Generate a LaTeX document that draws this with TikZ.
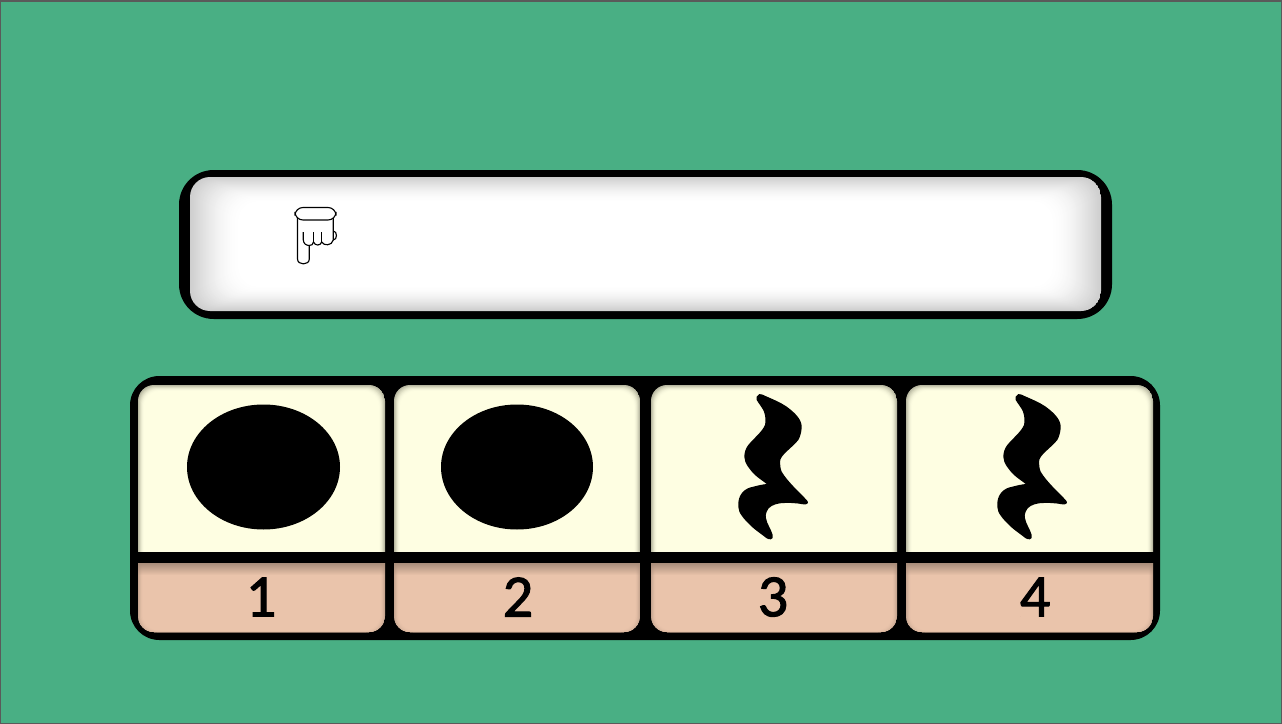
\documentclass[tikz,border=0pt]{standalone}
\usepackage{fontspec}
\newfontfamily\beatfont[FakeBold=1.8]{Carlito}
\definecolor{feltgreen}{HTML}{49AF84}
\definecolor{cellcream}{HTML}{FEFEE2}
\definecolor{cellpeach}{HTML}{EAC4AB}
\definecolor{framegray}{HTML}{5A5A5A}
\definecolor{panelshadow}{HTML}{CECECE}
\definecolor{creamshadow}{HTML}{B5B59E}
\definecolor{peachshadow}{HTML}{A98D7A}
\definecolor{peachedge}{HTML}{C4A48F}
\newcommand{\insetshade}[9]{% x0,y0,x1,y1,radius,inner colour,shadow colour,depth,xstep
  \foreach \i in {0,...,#8}{
    \pgfmathsetmacro{\mixval}{100*sin(90*\i/#8)}
    \fill[#6!\mixval!#7, rounded corners=#5] ({#1+#9*\i},{#2+0.5*\i}) rectangle ({#3-#9*\i},{#4-0.5*\i});
  }
}
\begin{document}
\begin{tikzpicture}[
x=0.75pt,y=-0.75pt,
beatnum/.style={font=\beatfont\fontsize{45}{45}\selectfont,text=black,inner sep=0pt},
handline/.style={black,line width=0.85pt},
restmark/.pic={
  \fill[black] (-17.3,-69.3) .. controls (-16,-72) and (-14,-72.5) .. (-12.3,-71.7)
    .. controls (-2,-67) and (6,-64) .. (12.7,-59.3)
    .. controls (20,-54) and (27.7,-47) .. (27.7,-39.3)
    .. controls (27.7,-34) and (26,-29) .. (24.3,-26)
    .. controls (18,-18) and (6,-11) .. (6,-4.3)
    .. controls (6,-1) and (6.5,3) .. (7.7,5.7)
    .. controls (13,15) and (26,27) .. (32.7,34)
    .. controls (34,35.5) and (34.5,37) .. (33.7,37.3)
    .. controls (33,38.5) and (31,38.5) .. (29.3,38.3)
    .. controls (22,37) and (14,36.5) .. (6,37.3)
    .. controls (0,38) and (-6,41) .. (-7.3,45.7)
    .. controls (-8.5,48) and (-8.5,50) .. (-8,52.3)
    .. controls (-7,58) and (-3,63) .. (-1.3,69)
    .. controls (-0.5,71) and (-1.5,73.5) .. (-3.3,73.3)
    .. controls (-4.5,73.5) and (-6,73) .. (-7.3,72.3)
    .. controls (-14,67) and (-19,64) .. (-24,59)
    .. controls (-30,53) and (-35.7,47) .. (-35.7,40.7)
    .. controls (-36,35) and (-35,31) .. (-32.3,27.3)
    .. controls (-29,23) and (-25,21.5) .. (-20.7,20.7)
    .. controls (-16,19.5) and (-12,18.5) .. (-7.3,18)
    .. controls (-11,15) and (-15,12.5) .. (-19,9)
    .. controls (-24,4) and (-29.7,-3) .. (-29.7,-9.3)
    .. controls (-29.7,-14) and (-28,-18) .. (-25.7,-21)
    .. controls (-20,-28) and (-12,-34) .. (-9,-41)
    .. controls (-8,-45) and (-8.5,-50) .. (-10,-54.3)
    .. controls (-12,-59) and (-15,-62) .. (-17.3,-66)
    .. controls (-18,-67) and (-18,-68) .. (-17.3,-69.3) -- cycle;
}]
% background
\fill[framegray] (0,0) rectangle (1282,724);
\fill[feltgreen] (1,2.5) rectangle (1281,723);

% pointer panel
\fill[black, rounded corners=26] (179,170) rectangle (1112,319);
\begin{scope}
\clip[rounded corners=15] (190,177) rectangle (1101,311);
\insetshade{190}{177}{1101}{311}{15}{white}{panelshadow}{52}{1}
\end{scope}

% hand
\draw[handline,fill=white] (333.3,231) .. controls (337.5,231) and (337.5,240) .. (333.3,240);
\draw[handline,fill=white] (297.5,218) -- (297.5,259) .. controls (297.5,265.5) and (309.3,265.5) .. (309.3,259) -- (309.3,245.5)
  .. controls (311.5,245.5) and (313,244.5) .. (313.5,242) .. controls (315,246) and (320.5,246) .. (321.7,242)
  .. controls (323.5,246) and (332,246) .. (333.3,240) -- (333.3,218) -- cycle;
\draw[handline] (303.3,232) -- (303.3,240) .. controls (303.5,243.5) and (306,245.5) .. (309.3,245.5);
\draw[handline] (313.5,232) -- (313.5,242);
\draw[handline] (321.7,232) -- (321.7,242);
\draw[handline,fill=white,rounded corners=6] (295,207.5) rectangle (336,220);

% beat box
\fill[black, rounded corners=22] (130,376) rectangle (1160,640);
\foreach \xa/\xb in {138/385,394/640,651/897,906/1153}{
  \begin{scope}
  \clip[rounded corners=12] (\xa,385) rectangle (\xb,600);
  \clip (\xa,385) rectangle (\xb,551);
  \insetshade{\xa}{385}{\xb}{600}{12}{cellcream}{creamshadow}{12}{0.5}
  \end{scope}
  \begin{scope}
  \clip[rounded corners=12] (\xa,530) rectangle (\xb,632);
  \clip (\xa,563) rectangle (\xb,632);
  \insetshade{\xa}{530}{\xb}{635}{12}{cellpeach}{peachedge}{10}{0.5}
  \foreach \k in {0,...,11}{
    \pgfmathsetmacro{\mixval}{100-100*\k/12}
    \fill[peachshadow,opacity=\mixval/100] (\xa,563+\k) rectangle (\xb,564+\k);
  }
  \end{scope}
}

% notes and rests
\fill[black] (263.5,467) ellipse (76.5 and 62.5);
\fill[black] (517,467) ellipse (76 and 62.5);
\pic at (774,466) {restmark};
\pic at (1033,466) {restmark};

% beat numbers
\node[beatnum] (beat1) at (261,597) {1};
\node[beatnum] (beat2) at (518,597) {2};
\node[beatnum] (beat3) at (773,597) {3};
\node[beatnum] (beat4) at (1035,597) {4};
\end{tikzpicture}
\end{document}
